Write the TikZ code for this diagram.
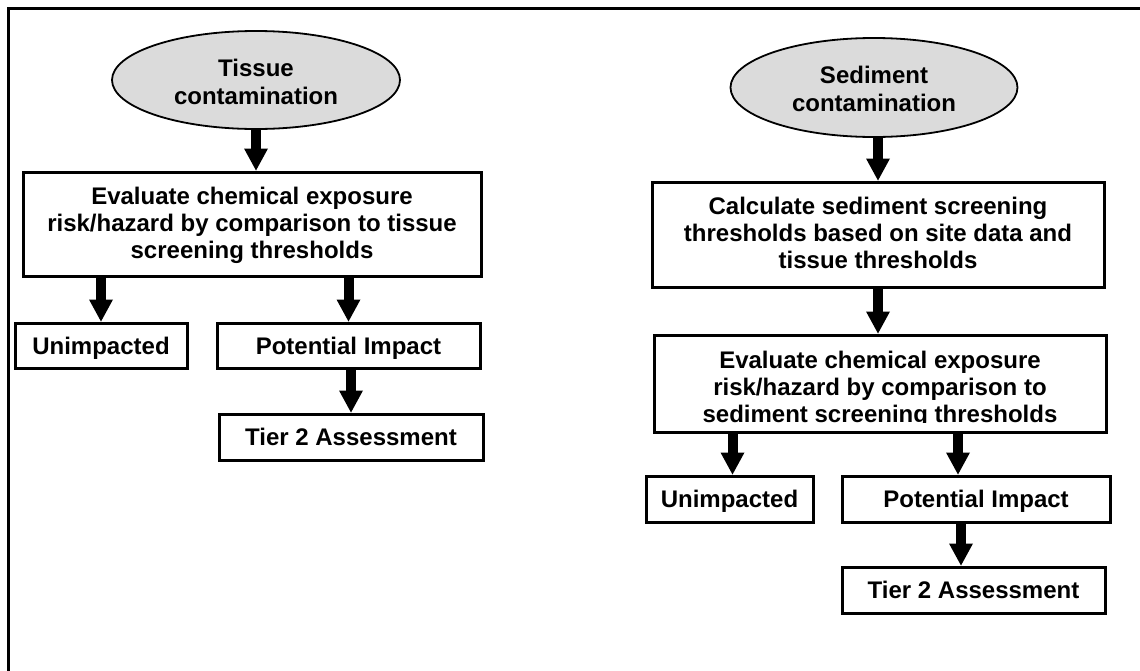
\documentclass[tikz,border=0pt]{standalone}
\usepackage{fontspec}
\setmainfont{Liberation Sans}
\usetikzlibrary{arrows.meta,shapes.geometric,calc}

% centred block of lines, lowered by #1 without changing the box size
\newcommand{\lowertext}[2]{\raisebox{-#1}[\height][\depth]{\begin{tabular}{@{}c@{}}#2\end{tabular}}}

\begin{document}
\begin{tikzpicture}[x=1pt,y=-1pt,
  every node/.style={font=\bfseries\fontsize{24}{27}\selectfont, align=center, inner sep=0pt},
  source/.style={ellipse, draw, line width=1.8pt, fill=black!14, font=\bfseries\fontsize{24}{28.5}\selectfont},
  stepbox/.style={rectangle, draw, line width=3pt, fill=white},
  outcome/.style={stepbox, text depth=0pt},
  arr/.style={line width=10pt, -{Triangle[width=24pt,length=22pt,line width=0pt]}},
  frame/.style={line width=3pt}
]
\useasboundingbox (0,0) rectangle (1140,670);

% open frame: top and left edges only
\coordinate (fbl) at (8,672);
\coordinate (ftl) at (8,8);
\coordinate (ftr) at (1142,8);
\draw[frame] (fbl) -- (ftl) -- (ftr);

% ---------- tissue branch ----------
\node[source, minimum width=288pt, minimum height=98pt] (ell1) at (256,80)
  {\lowertext{5pt}{Tissue\\contamination}};
\node[stepbox, minimum width=458pt, minimum height=104pt] (ev1) at (252,224)
  {\lowertext{2.5pt}{Evaluate chemical exposure\\risk/hazard by comparison to tissue\\screening thresholds}};
\node[outcome, minimum width=172pt, minimum height=45pt] (un1) at (101,345.5) {Unimpacted};
\node[outcome, minimum width=263pt, minimum height=45pt] (pi1) at (348.5,345.5) {Potential Impact};
\node[outcome, minimum width=264pt, minimum height=46pt] (t21) at (351,437) {Tier 2 Assessment};

\draw[arr] (ell1.south) -- (ell1.south |- ev1.north);
\draw[arr] (un1.north |- ev1.south) -- (un1.north);
\draw[arr] (pi1.north |- ev1.south) -- (pi1.north);
\draw[arr] (t21.north |- pi1.south) -- (t21.north);

% ---------- sediment branch ----------
\node[source, minimum width=287pt, minimum height=99pt] (ell2) at (874,87.5)
  {\lowertext{4.5pt}{Sediment\\contamination}};
\node[stepbox, minimum width=452pt, minimum height=105pt] (calc) at (878,234.5)
  {\lowertext{1.2pt}{Calculate sediment screening\\thresholds based on site data and\\tissue thresholds}};
\node[stepbox, minimum width=452pt, minimum height=97pt] (ev2) at (880,383.5)
  {\lowertext{7pt}{Evaluate chemical exposure\\risk/hazard by comparison to\\sediment screening thresholds}};
% the last line is cut off by the lower edge of its box
\fill[white] ($(ev2.south west)+(3,-3)$) rectangle ($(ev2.south east)+(-3,-10.5)$);
\node[outcome, minimum width=167pt, minimum height=46pt] (un2) at (729.5,499) {Unimpacted};
\node[outcome, minimum width=268pt, minimum height=46pt] (pi2) at (976,499) {Potential Impact};
\node[outcome, minimum width=263pt, minimum height=46pt] (t22) at (973.5,590) {Tier 2 Assessment};

\coordinate (un2in) at ($(un2.north)+(3,0)$);
\coordinate (pi2in) at ($(pi2.north)+(-18,0)$);
\coordinate (pi2out) at ($(pi2.south)+(-15,0)$);

\draw[arr] (calc.north |- ell2.south) -- (calc.north);
\draw[arr] (calc.south) -- (calc.south |- ev2.north);
\draw[arr] (un2in |- ev2.south) -- (un2in);
\draw[arr] (pi2in |- ev2.south) -- (pi2in);
\draw[arr] (pi2out) -- (pi2out |- t22.north);
\end{tikzpicture}
\end{document}
